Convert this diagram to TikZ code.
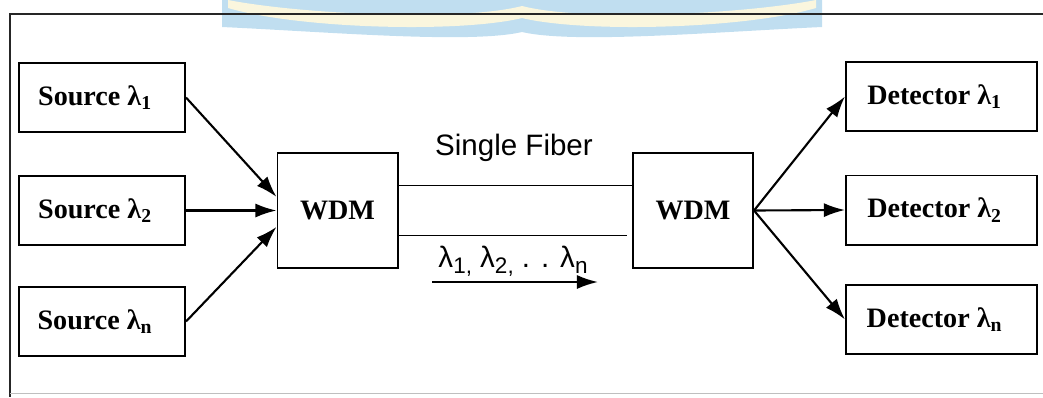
\documentclass[tikz,border=0pt]{standalone}
\usepackage{fontspec}
\setmainfont{Liberation Serif}
\newfontfamily\labelfont{Liberation Sans}
\usepackage{tikz}
\usetikzlibrary{arrows.meta}

\definecolor{markblue}{RGB}{192,222,240}
\definecolor{markyellow}{RGB}{250,246,222}
\newcommand{\bigsub}[1]{\raisebox{-4pt}{\fontsize{16}{16}\selectfont #1}}

\begin{document}
\begin{tikzpicture}[x=0.025cm, y=-0.025cm,
  srcbox/.style={rectangle, draw=black, line width=1.4pt, fill=white,
    minimum width=4.15cm, minimum height=1.725cm, inner sep=0pt,
    font=\fontsize{20}{23}\selectfont\bfseries},
  %
  detbox/.style={srcbox, minimum width=4.775cm},
  %
  mux/.style={srcbox, minimum width=3cm, minimum height=2.875cm},
  %
  fibre/.style={draw=black, line width=1.3pt},
  %
  flow/.style={draw=black, line width=1.5pt, -{Latex[length=15pt, width=10pt]}},
  %
  plain/.style={inner sep=0pt, font=\labelfont\fontsize{21}{24}\selectfont}
  ]

  \tikzset{every path/.style={line width=1.3pt}}
  \useasboundingbox (0,0) rectangle (1043,397);

  % watermark and frame
  \begin{scope}
    \fill[markblue] (222,0) -- (222,27)
      .. controls (330,32) and (470,44) .. (522,32)
      .. controls (574,44) and (714,32) .. (822,27) -- (822,0) -- cycle;
    \fill[markyellow] (228,0) .. controls (300,14) and (460,22) .. (522,6)
      -- (522,18) .. controls (460,33) and (300,29) .. (228,8) -- cycle;
    \fill[markyellow] (816,0) .. controls (744,14) and (584,22) .. (522,6)
      -- (522,18) .. controls (584,33) and (744,29) .. (816,8) -- cycle;
    \draw[black!85] (1043,14) -- (10,14) -- (10,397);
    \draw[black!25, line width=0.6pt] (10,393) -- (1043,393);
  \end{scope}

  \begin{scope}
    %%%%%%%%%%%%%%%%%%%%%%%%%%%%%%%
    \node [srcbox] (src1) at (102,97.5) {Source λ\textsubscript{1}\kern10pt};
    \node [srcbox] (src2) at (102,210.5) {Source λ\textsubscript{2}\kern10pt};
    \node [srcbox] (srcn) at (102,321.5) {Source λ\textsubscript{n}\kern10pt};
    %%%%%%%%%%%%%%%%%%%%%%%%%%%%%%%
    \node [mux] (wdmL) at (337.5,210.5) {WDM};
    \node [mux] (wdmR) at (693,210.5) {WDM};
    %%%%%%%%%%%%%%%%%%%%%%%%%%%%%%%
    \node [detbox] (det1) at (941.5,96.5) {Detector λ\textsubscript{1}\kern10pt};
    \node [detbox] (det2) at (941.5,210) {Detector λ\textsubscript{2}\kern10pt};
    \node [detbox] (detn) at (941.5,319.5) {Detector λ\textsubscript{n}\kern10pt};
    %%%%%%%%%%%%%%%%%%%%%%%%%%%%%%%
    \node [plain] (fiberlabel) at (514,148) {Single Fiber};
    \node [plain] (lambdas) at (513,261)
      {λ\bigsub{1,} λ\bigsub{2,} . . λ\bigsub{n}};
    \coordinate (flowstart) at (432,282);
    \coordinate (flowend) at (598,282);
  \end{scope}

  \begin{scope}
    \draw [flow] (src1.east) -- ([yshift=0.34cm]wdmL.west);
    \draw [flow] (src2.east) -- (wdmL.west);
    \draw [flow] (srcn.east) -- ([yshift=-0.41cm]wdmL.west);
    \draw [fibre] ([yshift=0.625cm]wdmL.east) -- ([yshift=0.625cm]wdmR.west);
    \draw [fibre] ([yshift=-0.625cm]wdmL.east) -- ([yshift=-0.625cm, xshift=-0.12cm]wdmR.west);
    \draw [flow] (flowstart) -- (flowend);
    \draw [flow] (wdmR.east) -- (det1.west);
    \draw [flow] (wdmR.east) -- (det2.west);
    \draw [flow] (wdmR.east) -- (detn.west);
  \end{scope}

\end{tikzpicture}
\end{document}
